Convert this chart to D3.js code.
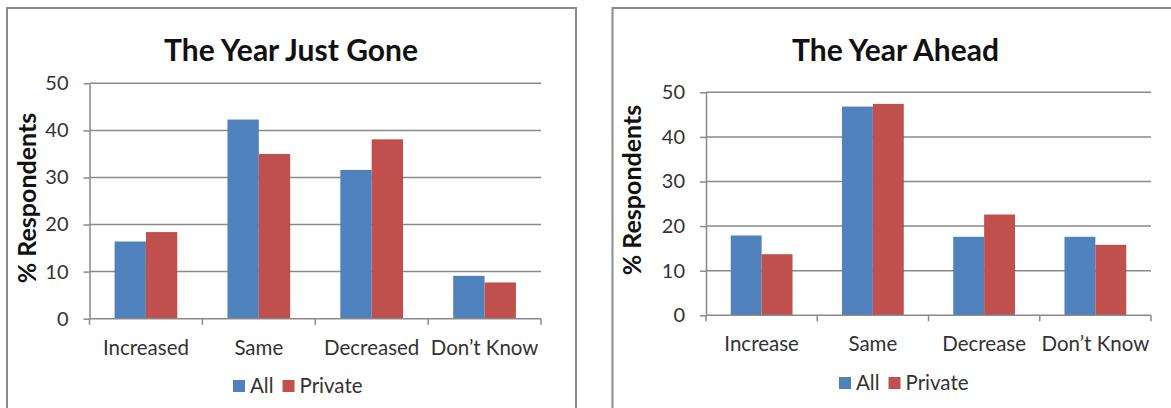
<!DOCTYPE html>
<html>
<head>
<meta charset="utf-8">
<script src="https://cdn.jsdelivr.net/npm/d3@7/dist/d3.min.js"></script>
<style>
  html, body { margin: 0; padding: 0; background: #ffffff; }
  svg { display: block; }
  text { font-family: Lato, "Open Sans", sans-serif; }
</style>
</head>
<body>
<svg id="chart" width="1171" height="408"></svg>
<script>
// Survey responses, % of respondents
const categoriesGone = ["Increased", "Same", "Decreased", "Don\u2019t Know"];
const categoriesAhead = ["Increase", "Same", "Decrease", "Don\u2019t Know"];
const seriesNames = ["All", "Private"];
const goneAll = [16.4, 42.3, 31.6, 9.1];
const gonePrivate = [18.4, 35.0, 38.1, 7.7];
const aheadAll = [17.9, 46.8, 17.6, 17.6];
const aheadPrivate = [13.7, 47.4, 22.6, 15.8];
const yTicks = [0, 10, 20, 30, 40, 50];
const titles = ["The Year Just Gone", "The Year Ahead"];
const yAxisTitle = "% Respondents";

const colors = { All: "#4f81bd", Private: "#c0504d" };
const gridColor = "#8a8a8a";
const labelColor = "#333333";

const svg = d3.select("#chart");

const panels = [
  {
    title: titles[0], cats: categoriesGone, all: goneAll, priv: gonePrivate,
    frame: { x: 7, y: 8, w: 569, h: 410 },
    plot: { x0: 89.5, x1: 541, y0: 318.7, yTop: 83.3 },
    titleX: 291, titleY: 60.5,
    yLabelX: 35.5, yLabelY: 198,
    xLabelPad: 21.5,
    legendY: 386, legendX: 233
  },
  {
    title: titles[1], cats: categoriesAhead, all: aheadAll, priv: aheadPrivate,
    frame: { x: 612.5, y: 8, w: 580, h: 410 },
    plot: { x0: 706, x1: 1151, y0: 315.3, yTop: 92.3 },
    titleX: 895.5, titleY: 61,
    yLabelX: 641, yLabelY: 190,
    xLabelPad: 21,
    legendY: 383, legendX: 839
  }
];

panels.forEach(p => {
  const g = svg.append("g");

  // chart frame
  g.append("rect")
    .attr("x", p.frame.x).attr("y", p.frame.y)
    .attr("width", p.frame.w).attr("height", p.frame.h)
    .attr("fill", "#ffffff")
    .attr("stroke", "#8c8c8c").attr("stroke-width", 2);

  const x = d3.scaleBand().domain(p.cats).range([p.plot.x0, p.plot.x1]).padding(0);
  const xs = d3.scaleBand().domain(seriesNames).range([0, x.bandwidth()])
    .paddingInner(0).paddingOuter(0.8);
  const y = d3.scaleLinear().domain([0, 50]).range([p.plot.y0, p.plot.yTop]);

  // horizontal gridlines
  g.append("g").selectAll("line").data(yTicks.filter(t => t > 0)).join("line")
    .attr("x1", p.plot.x0).attr("x2", p.plot.x1)
    .attr("y1", d => y(d)).attr("y2", d => y(d))
    .attr("stroke", gridColor).attr("stroke-width", 1.5);

  // bars
  const rows = p.cats.map((c, i) => ({ cat: c, values: [
    { s: "All", v: p.all[i] }, { s: "Private", v: p.priv[i] }
  ]}));
  g.append("g").selectAll("g").data(rows).join("g")
    .attr("transform", d => `translate(${x(d.cat)},0)`)
    .selectAll("rect").data(d => d.values).join("rect")
    .attr("x", d => xs(d.s))
    .attr("width", xs.bandwidth())
    .attr("y", d => y(d.v))
    .attr("height", d => y(0) - y(d.v))
    .attr("fill", d => colors[d.s]);

  // y axis
  const yAxis = g.append("g")
    .attr("transform", `translate(${p.plot.x0},0)`)
    .call(d3.axisLeft(y).tickValues(yTicks).tickSize(6).tickPadding(15).tickSizeOuter(0));
  yAxis.select(".domain").attr("stroke", gridColor).attr("stroke-width", 1.5);
  yAxis.selectAll(".tick line").attr("stroke", gridColor).attr("stroke-width", 1.5);
  yAxis.selectAll(".tick text")
    .attr("font-size", 20).attr("fill", labelColor)
    .style("font-family", "Lato, sans-serif");

  // x axis line with boundary ticks
  g.append("line")
    .attr("x1", p.plot.x0).attr("x2", p.plot.x1)
    .attr("y1", y(0)).attr("y2", y(0))
    .attr("stroke", gridColor).attr("stroke-width", 1.5);
  const bounds = p.cats.map(c => x(c)).concat([x.range()[1]]);
  g.append("g").selectAll("line").data(bounds).join("line")
    .attr("x1", d => d).attr("x2", d => d)
    .attr("y1", y(0)).attr("y2", y(0) + 6)
    .attr("stroke", gridColor).attr("stroke-width", 1.5);

  // category labels
  const xAxis = g.append("g")
    .attr("transform", `translate(0,${y(0)})`)
    .call(d3.axisBottom(x).tickSize(0).tickPadding(p.xLabelPad));
  xAxis.select(".domain").remove();
  xAxis.selectAll(".tick text")
    .attr("font-size", 20.5).attr("fill", labelColor)
    .style("font-family", "Lato, sans-serif");

  // title
  g.append("text")
    .attr("x", p.titleX).attr("y", p.titleY)
    .attr("text-anchor", "middle")
    .attr("font-size", 30).attr("font-weight", 700).attr("fill", "#111")
    .text(p.title);

  // y axis title
  g.append("text")
    .attr("transform", `translate(${p.yLabelX},${p.yLabelY}) rotate(-90)`)
    .attr("text-anchor", "middle")
    .attr("font-size", 25).attr("font-weight", 700).attr("fill", "#111")
    .text(yAxisTitle);

  // legend
  const lg = g.append("g").attr("transform", `translate(${p.legendX},${p.legendY})`);
  let cx = 0;
  seriesNames.forEach(s => {
    lg.append("rect").attr("x", cx).attr("y", -6).attr("width", 12).attr("height", 12)
      .attr("fill", colors[s]);
    const t = lg.append("text").attr("x", cx + 17).attr("y", 7)
      .attr("font-size", 20.5).attr("fill", labelColor).text(s);
    cx += 17 + t.node().getComputedTextLength() + 9;
  });
});
</script>
</body>
</html>
